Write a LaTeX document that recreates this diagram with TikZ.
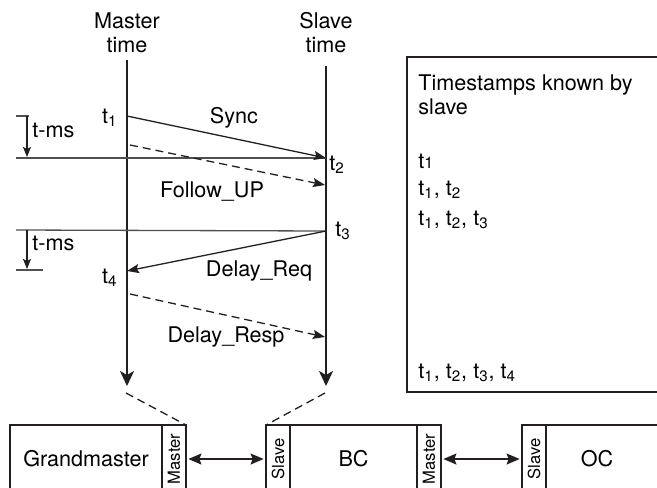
\documentclass[tikz,border=0pt]{standalone}
\usepackage{fontspec}
\setmainfont{TeX Gyre Heros}
\usetikzlibrary{arrows.meta,positioning,calc}
\definecolor{InkD} {RGB}{35, 31, 32}
\definecolor{GreyM}{RGB}{80, 80, 80}

\tikzset{
  lifeline/.style={InkD,line width=1pt,-{Stealth[length=7.5pt,width=7pt,inset=2pt]}},
  msg/.style={InkD,line width=0.65pt,-{Stealth[length=6pt,width=4.5pt,inset=1pt]}},
  msgdash/.style={msg,dash pattern=on 4pt off 2.5pt},
  epoch/.style={GreyM,line width=0.65pt},
  gap/.style={InkD,line width=0.65pt,-{Stealth[length=5pt,width=4pt,inset=1pt]}},
  zoomline/.style={InkD,line width=0.65pt,dash pattern=on 4pt off 2.5pt},
  lbl/.style={inner sep=0pt},
  devbox/.style={draw=InkD,line width=0.65pt,anchor=north west,inner sep=0pt,
    outer sep=0pt,minimum height=34pt},
  porttab/.style={devbox,minimum width=12pt,font=\fontsize{8.3}{9}\selectfont},
  link/.style={InkD,line width=0.65pt,shorten <=1.2pt,shorten >=1.2pt,
    {Stealth[length=6.5pt,width=5.5pt,inset=1pt]}-{Stealth[length=6.5pt,width=5.5pt,inset=1pt]}}
}

\begin{document}
\begin{tikzpicture}[x=0.5pt,y=-0.5pt,font=\fontsize{10.8}{12}\selectfont]
  \clip (0,0) rectangle (657,487);

  % time lines
  \coordinate (mtop) at (127,60);  \coordinate (mbot) at (127,386);
  \coordinate (stp)  at (326,66);  \coordinate (sbot) at (326,386);
  \draw[lifeline] (mtop)--(mbot);
  \draw[lifeline] (stp)--(sbot);
  \node[lbl,align=center] (mhead) at (127,33) {Master\\time};
  \node[lbl,align=center] (shead) at (326,33) {Slave\\time};

  % events on the time lines
  \coordinate (t1) at (127,116);  \coordinate (t2) at (326,158);
  \coordinate (t3) at (326,231);  \coordinate (t4) at (127,271);
  \coordinate (fu1) at (130,145); \coordinate (fu2) at (325,185);
  \coordinate (dr1) at (130,294); \coordinate (dr2) at (325,337);
  \coordinate (e1) at (16,158);   \coordinate (e2) at (16,230);

  \draw[epoch] (e1)--(t2);
  \draw[epoch] (e2)--(t3);
  \draw[msg] (t1)--(t2);
  \draw[msgdash] (fu1)--(fu2);
  \draw[msg] (t3)--(t4);
  \draw[msgdash] (dr1)--(dr2);

  \node[lbl,anchor=base east] (lt1) at (118,123) {t\textsubscript{1}};
  \node[lbl,anchor=base west] (lt2) at (329,170) {t\textsubscript{2}};
  \node[lbl,anchor=base west] (lt3) at (335,236) {t\textsubscript{3}};
  \node[lbl,anchor=base east] (lt4) at (118,283) {t\textsubscript{4}};

  \node[lbl,anchor=base] (sync) at (234,123) {Sync};
  \node[lbl,anchor=base] (fup)  at (212,197) {Follow\_UP};
  \node[lbl,anchor=base] (dreq) at (259,276) {Delay\_Req};
  \node[lbl,anchor=base] (dres) at (226,342) {Delay\_Resp};

  % t-ms offsets
  \coordinate (g1a) at (27,116); \coordinate (g1b) at (27,157);
  \coordinate (g2a) at (27,230); \coordinate (g2b) at (27,269);
  \draw[epoch] (16,116)--(29,116);
  \draw[gap] (g1a)--(g1b);
  \draw[gap] (g2a)--(g2b);
  \draw[epoch] (16,270)--(43,270);
  \node[lbl,anchor=base west] (ms1) at (32,137) {t-ms};
  \node[lbl,anchor=base west] (ms2) at (32,250) {t-ms};

  % what the slave knows
  \node[draw=InkD,line width=0.65pt,anchor=north west,inner sep=0pt,outer sep=0pt,
        minimum width=130pt,minimum height=167.5pt] (known) at (407,57) {};
  \node[lbl,align=left,anchor=north west] (khead) at (418,74)
    {Timestamps known by\\slave};
  \node[lbl,anchor=base west] (k1) at (418,168) {t{\fontsize{8}{9}\selectfont 1}};
  \node[lbl,anchor=base west] (k2) at (418,195) {t\textsubscript{1}, t\textsubscript{2}};
  \node[lbl,anchor=base west] (k3) at (418,225)
    {t\textsubscript{1}, t\textsubscript{2}, t\textsubscript{3}};
  \node[lbl,anchor=base west] (k4) at (418,378)
    {t\textsubscript{1}, t\textsubscript{2}, t\textsubscript{3}, t\textsubscript{4}};

  % clocks
  \node[devbox,minimum width=76pt] (gm) at (10,425) {Grandmaster};
  \node[porttab] (gmm) at (gm.north east) {\rotatebox{90}{Master}};
  \node[porttab] (bcs) at (266,425) {\rotatebox{90}{Slave}};
  \node[devbox,minimum width=63.5pt] (bc) at (bcs.north east) {BC};
  \node[porttab] (bcm) at (bc.north east) {\rotatebox{90}{Master}};
  \node[porttab] (ocs) at (522,425) {\rotatebox{90}{Slave}};
  \node[devbox,minimum width=80pt] (oc) at (ocs.north east) {};
  \node[lbl] (octxt) at (597,459) {OC};

  \draw[link] (gmm)--(bcs);
  \draw[link] (bcm)--(ocs);

  \coordinate (mfoot) at (126,393); \coordinate (sfoot) at (325,393);
  \draw[zoomline] (mfoot)--(gmm.north east);
  \draw[zoomline] (sfoot)--(bcs.north west);
\end{tikzpicture}
\end{document}
